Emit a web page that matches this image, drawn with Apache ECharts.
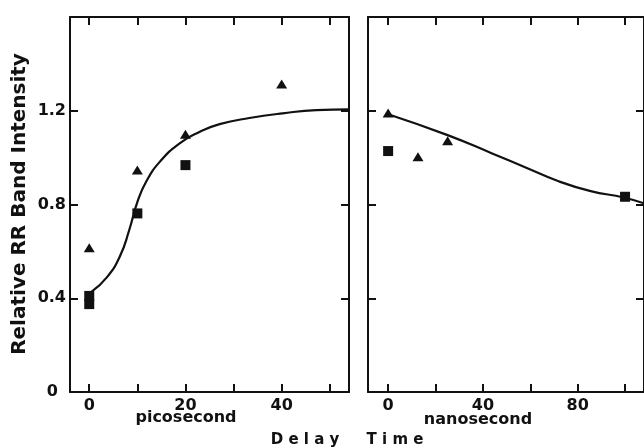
<!DOCTYPE html>
<html>
<head>
<meta charset="utf-8">
<script src="https://cdn.jsdelivr.net/npm/echarts@6/dist/echarts.min.js"></script>
<style>
  html, body { margin: 0; padding: 0; background: #fff; }
  #chart { width: 644px; height: 447px; }
</style>
</head>
<body>
<div id="chart"></div>
<script>
// picosecond panel
const psTriangles = [[0, 0.616], [10, 0.947], [20, 1.10], [40, 1.314]]
const psSquares = [[0, 0.41], [0, 0.375], [10, 0.762], [20, 0.968]]
const psCurve = [
  [0.5, 0.428], [3.7, 0.49], [6.4, 0.58], [8.3, 0.69], [10, 0.81],
  [11.9, 0.9], [14.7, 0.983], [18.8, 1.061], [23.0, 1.11], [27.1, 1.143],
  [33.3, 1.169], [40.2, 1.189], [47.2, 1.203], [54, 1.206]
]
const psLabels = [0, 20, 40]
const psTicks = [0, 10, 20, 30, 40, 50]

// nanosecond panel
const nsTriangles = [[0, 1.19], [12.6, 1.004], [25.1, 1.072]]
const nsSquares = [[0, 1.028], [100, 0.833]]
const nsCurve = [
  [0, 1.185], [25.1, 1.096], [43.9, 1.018], [57.8, 0.959], [71.7, 0.90],
  [85.5, 0.857], [99.4, 0.83], [108, 0.805]
]
const nsLabels = [0, 40, 80]
const nsTicks = [0, 20, 40, 60, 80, 100]

const yLabels = [0, 0.4, 0.8, 1.2]
const yTicks = [0.4, 0.8, 1.2]

const ink = '#111'
const font = 'DejaVu Sans'

const axisLine = { show: true, onZero: false, lineStyle: { color: ink, width: 2 } }
const tick = vals => ({ show: true, inside: true, length: 8, customValues: vals, lineStyle: { color: ink, width: 2 } })

const xBottom = (grid, min, max, labels, ticks) => ({
  type: 'value', gridIndex: grid, position: 'bottom', min, max,
  axisLine, axisTick: tick(ticks), splitLine: { show: false },
  axisLabel: { customValues: labels, margin: 6, color: ink, fontFamily: font, fontWeight: 'bold', fontSize: 16 }
})
const xTop = (grid, min, max, ticks) => ({
  type: 'value', gridIndex: grid, position: 'top', min, max,
  axisLine, axisTick: tick(ticks), splitLine: { show: false }, axisLabel: { show: false }
})
const yAxis = (grid, pos, labels) => ({
  type: 'value', gridIndex: grid, position: pos, min: 0, max: 1.6,
  axisLine, axisTick: tick(yTicks), splitLine: { show: false },
  axisLabel: labels ? {
    customValues: yLabels, margin: 4, color: ink, fontFamily: font, fontWeight: 'bold', fontSize: 16,
    formatter: v => v === 0 ? '{z|0}' : String(v),
    rich: { z: { padding: [0, 8, 0, 0], color: ink, fontFamily: font, fontWeight: 'bold', fontSize: 16 } }
  } : { show: false }
})

const markStyle = { color: ink, opacity: 1 }

const option = {
  backgroundColor: '#fff',
  animation: false,
  grid: [
    { left: 70, top: 17, width: 279, height: 375 },
    { left: 368, top: 17, width: 278.5, height: 375 }
  ],
  xAxis: [
    xBottom(0, -4, 54, psLabels, psTicks),
    xTop(0, -4, 54, psTicks),
    xBottom(1, -8.5, 108, nsLabels, nsTicks),
    xTop(1, -8.5, 108, nsTicks)
  ],
  yAxis: [
    yAxis(0, 'left', true),
    yAxis(0, 'right', false),
    yAxis(1, 'left', false),
    yAxis(1, 'right', false)
  ],
  graphic: [
    { type: 'text', x: 20, y: 204, rotation: Math.PI / 2,
      style: { text: 'Relative RR Band Intensity', fill: ink, font: 'bold 20px DejaVu Sans', align: 'center', verticalAlign: 'middle' } },
    { type: 'text', x: 186, y: 418,
      style: { text: 'picosecond', fill: ink, font: 'bold 16px DejaVu Sans', align: 'center', verticalAlign: 'middle' } },
    { type: 'text', x: 478, y: 420,
      style: { text: 'nanosecond', fill: ink, font: 'bold 16px DejaVu Sans', align: 'center', verticalAlign: 'middle' } },
    { type: 'text', x: 305, y: 440,
      style: { text: 'D e l a y', fill: ink, font: 'bold 15px DejaVu Sans', align: 'center', verticalAlign: 'middle' } },
    { type: 'text', x: 395, y: 440,
      style: { text: 'T i m e', fill: ink, font: 'bold 15px DejaVu Sans', align: 'center', verticalAlign: 'middle' } }
  ],
  series: [
    { type: 'line', xAxisIndex: 0, yAxisIndex: 0, data: psCurve, smooth: 0.5, showSymbol: false,
      lineStyle: { color: ink, width: 2.2 } },
    { type: 'scatter', xAxisIndex: 0, yAxisIndex: 0, data: psTriangles, symbol: 'triangle', symbolSize: [11, 9],
      itemStyle: markStyle },
    { type: 'scatter', xAxisIndex: 0, yAxisIndex: 0, data: psSquares, symbol: 'rect', symbolSize: 10,
      itemStyle: markStyle },
    { type: 'line', xAxisIndex: 2, yAxisIndex: 2, data: nsCurve, smooth: 0.5, showSymbol: false,
      lineStyle: { color: ink, width: 2.2 } },
    { type: 'scatter', xAxisIndex: 2, yAxisIndex: 2, data: nsTriangles, symbol: 'triangle', symbolSize: [11, 9],
      itemStyle: markStyle },
    { type: 'scatter', xAxisIndex: 2, yAxisIndex: 2, data: nsSquares, symbol: 'rect', symbolSize: 10,
      itemStyle: markStyle }
  ]
}

const chart = echarts.init(document.getElementById('chart'))
chart.setOption(option)
</script>
</body>
</html>
